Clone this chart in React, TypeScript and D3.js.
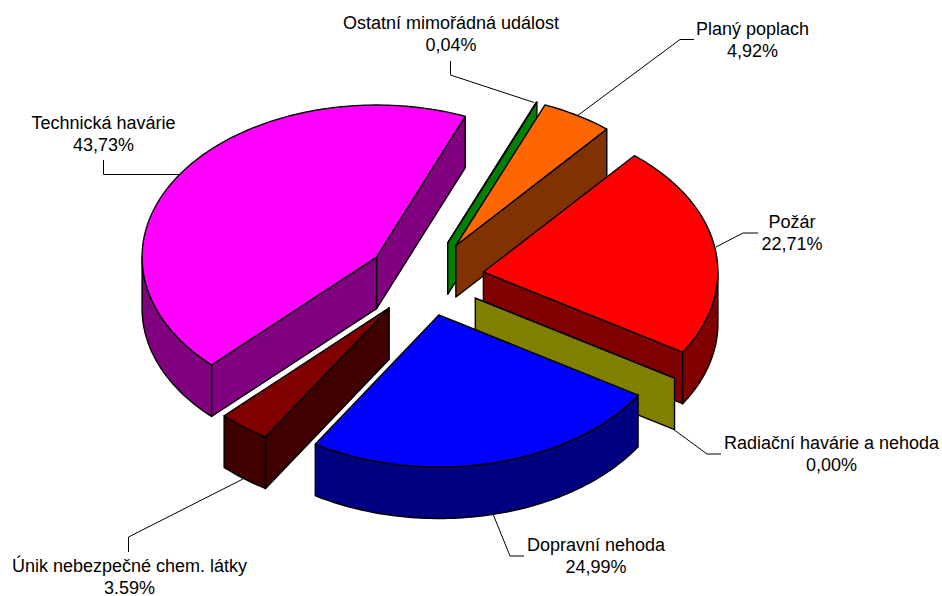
import React from "react";
import * as d3 from "d3";

const labels = ["Ostatní mimořádná událost", "Planý poplach", "Požár", "Radiační havárie a nehoda", "Dopravní nehoda", "Únik nebezpečné chem. látky", "Technická havárie"];
const valueTexts = ["0,04%", "4,92%", "22,71%", "0,00%", "24,99%", "3.59%", "43,73%"];
const values = [0.04, 4.92, 22.71, 0, 24.99, 3.59, 43.73];
const topColors = ["#00ff00", "#ff6600", "#ff0000", "#808000", "#0000ff", "#800000", "#ff00ff"];
const sideColors = ["#008000", "#803300", "#800000", "#808000", "#000080", "#400000", "#800080"];
const labelAnchors: [number, number][] = [[451, 29], [752.5, 34.5], [792, 228], [831.5, 448.5], [596, 551], [129.5, 572], [103.5, 129]];
const leaders: [number, number][][] = [
  [[450.5, 61], [450.5, 75], [534, 102.5]],
  [[694, 39.5], [680, 39.5], [577, 116]],
  [[758, 233], [743, 233], [716, 247]],
  [[673, 429], [707, 454], [721, 454]],
  [[524, 556], [510, 556], [493, 514]],
  [[128.5, 552], [128.5, 537], [243, 479]],
  [[103.5, 160], [103.5, 174.5], [180, 174.5]],
];
const paintOrder = [0, 1, 2, 6, 3, 4, 5];

const W = 942, H = 596;
const CX = 425.5, CY = 278, RX = 234.5, RY = 152, DEPTH = 51.5, EXPLODE = 0.25;
const START_DEG = 22.2;

export default function App() {
  const pie = d3.pie<number>().sort(null).startAngle((START_DEG * Math.PI) / 180).endAngle((START_DEG * Math.PI) / 180 + 2 * Math.PI);
  const arcs = pie(values);
  const line = d3.line();

  const slice = (i: number) => {
    const a = arcs[i];
    const mid = (a.startAngle + a.endAngle) / 2;
    const ox = CX + EXPLODE * RX * Math.sin(mid);
    const oy = CY - EXPLODE * RY * Math.cos(mid);
    const pt = (t: number, dy = 0): [number, number] => [ox + RX * Math.sin(t), oy - RY * Math.cos(t) + dy];
    const samples = (t0: number, t1: number, dy = 0) => {
      const n = Math.max(2, Math.ceil(Math.abs(t1 - t0) / 0.02));
      return d3.range(n + 1).map((k) => pt(t0 + ((t1 - t0) * k) / n, dy));
    };
    const apex: [number, number] = [ox, oy];
    const apexB: [number, number] = [ox, oy + DEPTH];
    const t0 = a.startAngle, t1 = a.endAngle;
    const wall = (t: number) => line([apex, pt(t), pt(t, DEPTH), apexB]) + "Z";
    const fronts: [number, number][] = [];
    [[Math.PI / 2, (3 * Math.PI) / 2], [(5 * Math.PI) / 2, (7 * Math.PI) / 2]].forEach(([lo, hi]) => {
      const s = Math.max(t0, lo), e = Math.min(t1, hi);
      if (e > s) fronts.push([s, e]);
    });
    const outer = fronts.map(([s, e]) => line([...samples(s, e), ...samples(s, e, DEPTH).reverse()]) + "Z");
    const top = line([apex, ...samples(t0, t1)]) + "Z";
    return (
      <g key={i} stroke="#000" strokeWidth={1.4} strokeLinejoin="round">
        {Math.sin(t0) < 0 && <path d={wall(t0)} fill={sideColors[i]} />}
        {Math.sin(t1) > 0 && <path d={wall(t1)} fill={sideColors[i]} />}
        {outer.map((d, k) => <path key={k} d={d} fill={sideColors[i]} />)}
        <path d={top} fill={topColors[i]} />
      </g>
    );
  };

  return (
    <svg width={W} height={H} viewBox={`0 0 ${W} ${H}`} style={{ position: "absolute", left: 0, top: 0, background: "#fff" }}>
      {paintOrder.map(slice)}
      {leaders.map((l, i) => (
        <path key={i} d={line(l) || ""} fill="none" stroke="#000" strokeWidth={1} />
      ))}
      {labels.map((t, i) => (
        <text key={i} textAnchor="middle" fontFamily="'Liberation Sans', Arial, sans-serif" fontSize={18} fill="#000">
          <tspan x={labelAnchors[i][0]} y={labelAnchors[i][1]}>{t}</tspan>
          <tspan x={labelAnchors[i][0]} y={labelAnchors[i][1] + 22}>{valueTexts[i]}</tspan>
        </text>
      ))}
    </svg>
  );
}
